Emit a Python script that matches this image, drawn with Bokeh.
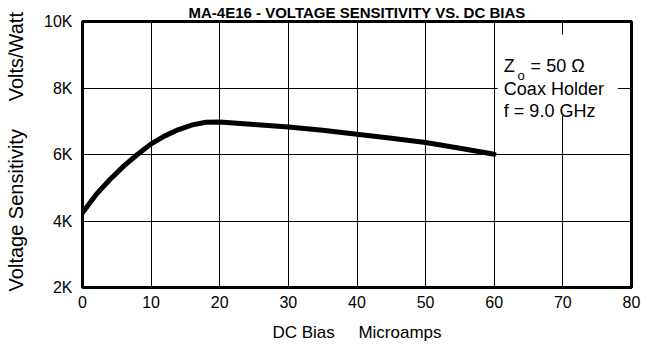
from bokeh.plotting import figure
from bokeh.models import FixedTicker, Label, BoxAnnotation, Title
from bokeh.embed import file_html
from bokeh.resources import INLINE

# Data
bias_ua = [0, 2, 4, 6, 8, 10, 12, 14, 16, 18, 20, 22, 25, 30, 35, 40, 45, 50, 55, 60]
sens_vw = [4250, 4800, 5250, 5650, 6000, 6320, 6560, 6750, 6890, 6970, 6980, 6950, 6900, 6830, 6730, 6610, 6490, 6360, 6190, 6010]
x_ticks = [0, 10, 20, 30, 40, 50, 60, 70, 80]
y_ticks = [2000, 4000, 6000, 8000, 10000]
y_tick_labels = ["2K", "4K", "6K", "8K", "10K"]

FONT = "Liberation Sans"
NB = "\u00a0"

p = figure(width=654, height=345, x_range=(0, 80), y_range=(2000, 10000),
           output_backend="svg", toolbar_location=None,
           min_border_left=82, min_border_right=23, min_border_top=0, min_border_bottom=58)

p.add_layout(Title(text="MA-4E16 - VOLTAGE SENSITIVITY VS. DC BIAS", align="center",
                   text_font=FONT, text_font_style="bold", text_font_size="15px",
                   text_color="black", standoff=2, offset=0), "above")

p.outline_line_color = "black"
p.outline_line_width = 3
p.background_fill_color = "white"
p.border_fill_color = "white"

p.xaxis.ticker = FixedTicker(ticks=x_ticks)
p.yaxis.ticker = FixedTicker(ticks=y_ticks)
p.yaxis.major_label_overrides = {t: l for t, l in zip(y_ticks, y_tick_labels)}

for ax in (p.xaxis, p.yaxis):
    ax.axis_line_color = None
    ax.major_tick_line_color = None
    ax.minor_tick_line_color = None
    ax.major_label_text_font = FONT
    ax.major_label_text_font_size = "16px"
    ax.major_label_text_color = "black"
    ax.axis_label_text_font = FONT
    ax.axis_label_text_font_style = "normal"
    ax.axis_label_text_color = "black"
p.xaxis.major_label_standoff = 2
p.yaxis.major_label_standoff = 4

p.xaxis.axis_label = "DC Bias" + NB * 5 + "Microamps"
p.xaxis.axis_label_text_font_size = "17px"
p.xaxis.axis_label_standoff = 12

p.yaxis.axis_label = NB + "Voltage Sensitivity" + NB * 5 + "Volts/Watt"
p.yaxis.axis_label_text_font_size = "20px"
p.yaxis.axis_label_standoff = 14

p.xgrid.grid_line_color = "black"
p.ygrid.grid_line_color = "black"
p.xgrid.grid_line_width = 1
p.ygrid.grid_line_width = 1

p.line(bias_ua, sens_vw, line_color="black", line_width=5, line_join="round", line_cap="round")

# Annotation box (white background over the grid)
p.add_layout(BoxAnnotation(left=60.5, right=78.0, bottom=7160, top=9610,
                           fill_color="white", fill_alpha=1.0, line_color=None))
p.add_layout(Label(x=61.4, y=8653, text="Z", text_font=FONT, text_font_size="18px",
                   text_baseline="alphabetic", text_color="black"))
p.add_layout(Label(x=63.4, y=8383, text="o", text_font=FONT, text_font_size="13px",
                   text_baseline="alphabetic", text_color="black"))
p.add_layout(Label(x=65.3, y=8653, text="= 50 \u03a9", text_font=FONT, text_font_size="18px",
                   text_baseline="alphabetic", text_color="black"))
p.add_layout(Label(x=61.4, y=7964, text="Coax Holder", text_font=FONT, text_font_size="18px",
                   text_baseline="alphabetic", text_color="black"))
p.add_layout(Label(x=61.4, y=7305, text="f = 9.0 GHz", text_font=FONT, text_font_size="18px",
                   text_baseline="alphabetic", text_color="black"))

open("out.html", "w").write(file_html(p, INLINE))
